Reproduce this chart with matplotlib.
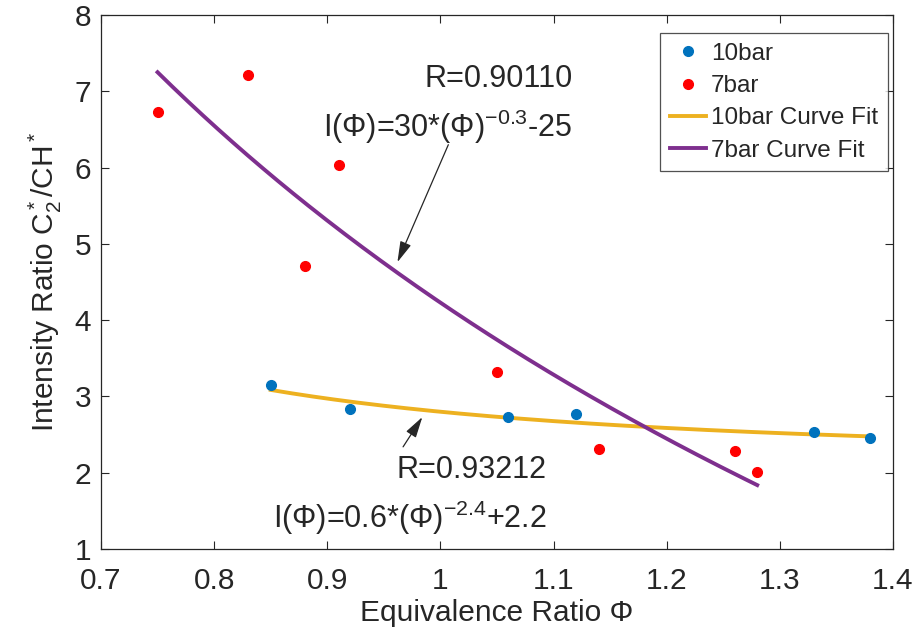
import numpy as np
import matplotlib
matplotlib.use("Agg")
import matplotlib.pyplot as plt

plt.rcParams['font.family'] = ['Liberation Sans', 'DejaVu Sans']
plt.rcParams['mathtext.fontset'] = 'custom'
plt.rcParams['mathtext.rm'] = 'Liberation Sans'
plt.rcParams['mathtext.it'] = 'Liberation Sans'

# Measured intensity ratios
phi_10bar = [0.85, 0.92, 1.06, 1.12, 1.33, 1.38]
ratio_10bar = [3.15, 2.84, 2.73, 2.77, 2.53, 2.46]

phi_7bar = [0.75, 0.83, 0.88, 0.91, 1.05, 1.14, 1.26, 1.28]
ratio_7bar = [6.73, 7.21, 4.71, 6.03, 3.32, 2.31, 2.29, 2.01]

# Power-law fits I = a * phi**b + c
fit_10bar = (0.6, -2.4, 2.2)
fit_7bar = (33.5, -0.3, -29.27)

x_ticks = [0.7, 0.8, 0.9, 1.0, 1.1, 1.2, 1.3, 1.4]
x_tick_labels = ['0.7', '0.8', '0.9', '1', '1.1', '1.2', '1.3', '1.4']
y_ticks = [1, 2, 3, 4, 5, 6, 7, 8]

fig = plt.figure(figsize=(9.14, 6.37), dpi=100)
ax = fig.add_axes([0.1105, 0.138, 0.8665, 0.8385])

blue = '#0072BD'
red = '#FF0000'
yellow = '#EDB120'
purple = '#7E2F8E'
ink = '#262626'

ax.plot(phi_10bar, ratio_10bar, 'o', color=blue, ms=7, label='10bar', zorder=3)
ax.plot(phi_7bar, ratio_7bar, 'o', color=red, ms=7, label='7bar', zorder=3)

xf10 = np.linspace(min(phi_10bar), max(phi_10bar), 200)
a, b, c = fit_10bar
ax.plot(xf10, a * xf10 ** b + c, color=yellow, lw=2.8, label='10bar Curve Fit')

xf7 = np.linspace(min(phi_7bar), max(phi_7bar), 200)
a, b, c = fit_7bar
ax.plot(xf7, a * xf7 ** b + c, color=purple, lw=2.8, label='7bar Curve Fit')

ax.set_xlim(0.7, 1.4)
ax.set_ylim(1, 8)
ax.set_xticks(x_ticks)
ax.set_xticklabels(x_tick_labels)
ax.set_yticks(y_ticks)
ax.tick_params(direction='in', length=6, width=0.8, colors=ink,
               labelsize=21.5, top=True, right=True)
ax.tick_params(axis='x', pad=13)
ax.tick_params(axis='y', pad=7)
for s in ax.spines.values():
    s.set_color(ink)
    s.set_linewidth(0.9)

ax.set_xlabel('Equivalence Ratio \u03a6', fontsize=21.5, color=ink, labelpad=3)
ax.set_ylabel('Intensity Ratio C$_2^*$/CH$^*$', fontsize=21.5, color=ink, labelpad=8)

leg = ax.legend(loc='upper right', fontsize=17.5, frameon=True, fancybox=False,
                edgecolor=ink, handlelength=1.5, handletextpad=0.2,
                borderpad=0.4, labelspacing=0.42, borderaxespad=0,
                bbox_to_anchor=(0.9937, 0.966))
leg.get_frame().set_linewidth(0.9)
for t in leg.get_texts():
    t.set_color(ink)

txt_kw = dict(fontsize=22, color=ink, ha='right', va='baseline')
ax.text(1.117, 7.06, 'R=0.90110', **txt_kw)
ax.text(1.117, 6.40, 'I(\u03a6)=30*(\u03a6)$^{-0.3}$-25', **txt_kw)
ax.annotate('', xy=(0.962, 4.76), xytext=(1.007, 6.30),
            arrowprops=dict(arrowstyle='-|>,head_length=0.8,head_width=0.22',
                            color=ink, lw=0.9, mutation_scale=16,
                            shrinkA=0, shrinkB=0))

ax.text(1.094, 1.93, 'R=0.93212', **txt_kw)
ax.text(1.094, 1.28, 'I(\u03a6)=0.6*(\u03a6)$^{-2.4}$+2.2', **txt_kw)
ax.annotate('', xy=(0.984, 2.73), xytext=(0.967, 2.34),
            arrowprops=dict(arrowstyle='-|>,head_length=0.8,head_width=0.22',
                            color=ink, lw=0.9, mutation_scale=16,
                            shrinkA=0, shrinkB=0))

fig.savefig('out.png', dpi=100)
